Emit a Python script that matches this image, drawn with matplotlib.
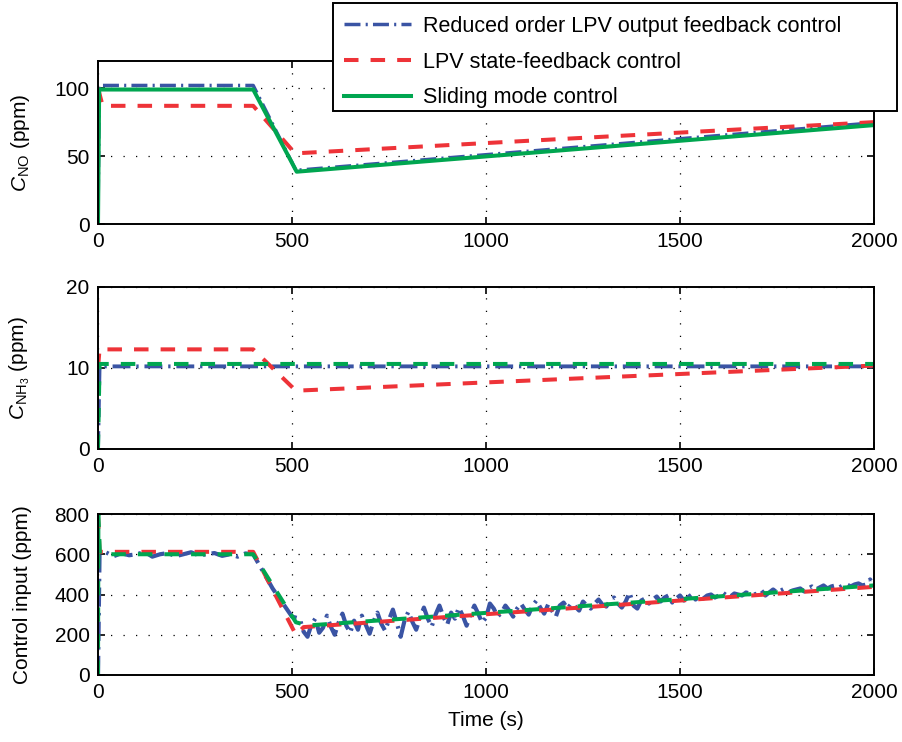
import numpy as np
import matplotlib

matplotlib.use("Agg")
import matplotlib.pyplot as plt
from matplotlib.patches import Rectangle

plt.rcParams["font.family"] = ["Liberation Sans", "DejaVu Sans"]
plt.rcParams["mathtext.fontset"] = "custom"
plt.rcParams["mathtext.rm"] = "Liberation Sans"
plt.rcParams["mathtext.it"] = "Liberation Sans:italic"
plt.rcParams["font.size"] = 15

# ── Data ──────────────────────────────────────────────────────────────

# C_NO (ppm)
t_no_lpvo = [0, 3, 400, 510, 2000]
no_lpvo = [0, 102, 102, 39.5, 74.5]
t_no_lpvs = [0, 12, 400, 508, 2000]
no_lpvs = [100, 87, 87, 52, 75]
t_no_smc = [0, 3, 400, 512, 2000]
no_smc = [0, 99, 99, 38.5, 72.8]

# C_NH3 (ppm)
t_nh3_lpvo = [0, 4, 2000]
nh3_lpvo = [0, 10.2, 10.2]
t_nh3_lpvs = [0, 4, 400, 510, 2000]
nh3_lpvs = [10, 12.3, 12.3, 7.2, 10.3]
t_nh3_smc = [0, 4, 2000]
nh3_smc = [0, 10.5, 10.5]

# Control input (ppm)
t_u_lpvo = [0, 4] + list(range(20, 401, 20)) + [450, 500] + list(range(520, 2001, 10))
u_lpvo = [
    0, 600,
    610, 590, 605, 595, 600, 612, 588, 600, 606, 590, 600, 610, 594, 600,
    606, 592, 600, 588, 604, 600,
    430, 290,
    280, 215, 190, 250, 280, 210, 235, 295, 240, 200, 260, 305, 245, 210,
    270, 225, 295, 250, 205, 265, 310, 255, 220, 275, 325, 260, 190, 270,
    315, 265, 225, 285, 335, 280, 240, 300, 345, 290, 250, 310, 280, 335,
    295, 245, 300, 345, 305, 260, 285,
    355, 330, 290, 310, 345, 320, 290, 330, 355, 325, 300, 345, 370, 335,
    305, 350, 320, 290, 345, 360, 330, 355, 340, 320, 365, 345, 330, 355,
    375, 350, 340, 370, 385, 355, 335, 365, 410, 345, 330, 370, 380, 355,
    375, 390, 365, 385, 395, 360, 380, 395,
    370, 385, 400, 375, 390, 380, 395, 400, 385, 395, 410, 395, 390, 405,
    400, 395, 410, 405, 400, 405, 420, 395, 410, 425, 410, 420, 430, 410,
    420, 425, 430, 415, 430, 440, 425, 435, 445, 430, 440, 445, 435, 445,
    450, 440, 450, 455, 445, 450, 475, 440,
]
t_u_lpvs = [0, 4, 400, 510, 530, 2000]
u_lpvs = [800, 612, 612, 200, 238, 438]
t_u_smc = [0, 1, 5, 400, 510, 540, 2000]
u_smc = [0, 800, 600, 600, 262, 246, 445]

LABELS = [
    "Reduced order LPV output feedback control",
    "LPV state-feedback control",
    "Sliding mode control",
]
BLUE = "#3a54a4"
RED = "#ee3338"
GREEN = "#00a650"

DASHDOT = (0, (4.6, 1.5, 0.6, 1.5))
DASHED = (0, (3.6, 3.0))

fig = plt.figure(figsize=(9.02, 7.42), dpi=100)
left, width = 98 / 902, 776 / 902
boxes = [
    (1 - 224 / 742, 163 / 742),
    (1 - 449 / 742, 162 / 742),
    (1 - 675 / 742, 161 / 742),
]
axes = [fig.add_axes([left, b, width, h]) for b, h in boxes]

ax = axes[0]
h1, = ax.plot(t_no_lpvo, no_lpvo, color=BLUE, lw=2.5, ls=DASHDOT)
h2, = ax.plot(t_no_lpvs, no_lpvs, color=RED, lw=2.9, ls=DASHED)
h3, = ax.plot(t_no_smc, no_smc, color=GREEN, lw=2.9, ls="-")
ax.set_ylim(0, 120)
ax.set_yticks([0, 50, 100])
ax.set_ylabel(r"$C_{\mathrm{NO}}$ (ppm)")

ax = axes[1]
ax.plot(t_nh3_lpvo, nh3_lpvo, color=BLUE, lw=2.8, ls=DASHDOT)
ax.plot(t_nh3_lpvs, nh3_lpvs, color=RED, lw=2.9, ls=DASHED)
ax.plot(t_nh3_smc, nh3_smc, color=GREEN, lw=2.9, ls=DASHED)
ax.set_ylim(0, 20)
ax.set_yticks([0, 10, 20])
ax.set_ylabel(r"$C_{\mathrm{NH}_3}$ (ppm)")

ax = axes[2]
ax.plot(t_u_lpvo, u_lpvo, color=BLUE, lw=3.0, ls=DASHDOT)
ax.plot(t_u_lpvs, u_lpvs, color=RED, lw=2.9, ls=DASHED)
ax.plot(t_u_smc, u_smc, color=GREEN, lw=2.9, ls=DASHED)
ax.set_ylim(0, 800)
ax.set_yticks([0, 200, 400, 600, 800])
ax.set_ylabel("Control input (ppm)")
ax.set_xlabel("Time (s)", labelpad=6)

for ax in axes:
    ax.set_xlim(0, 2000)
    ax.set_xticks([0, 500, 1000, 1500, 2000])
    ax.grid(True, color="black", lw=0.9, ls=(0, (1, 9)))
    ax.tick_params(direction="in", top=True, right=True, length=5, width=1.2,
                   pad=6, labelsize=15)
    for s in ax.spines.values():
        s.set_linewidth(1.4)
    ax.yaxis.set_label_coords(-0.085, 0.5)

# legend box (MATLAB style, with extra room on the right)
fig.add_artist(Rectangle((333 / 902, 1 - 111 / 742), 564 / 902, 108 / 742,
                         transform=fig.transFigure, facecolor="white",
                         edgecolor="black", lw=1.4, zorder=5))
leg = fig.legend(
    [h1, h2, h3], LABELS,
    loc="upper left", bbox_to_anchor=(344 / 902, 1 - 16 / 742),
    fontsize=15.5, frameon=False, handlelength=3.1, handletextpad=0.55,
    labelspacing=0.68, borderpad=0, borderaxespad=0,
)
leg.set_zorder(6)

fig.savefig("out.png", dpi=100)
